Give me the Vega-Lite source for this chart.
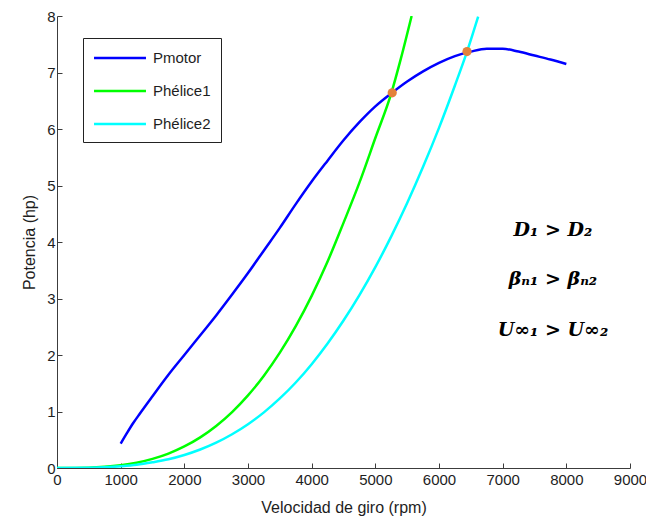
{
  "$schema": "https://vega.github.io/schema/vega-lite/v6.json",
  "width": 573,
  "height": 452,
  "autosize": {"type": "none"},
  "padding": {"left": 57, "top": 16, "right": 16, "bottom": 51},
  "background": "white",
  "config": {
    "view": {"stroke": null},
    "font": "Liberation Sans",
    "axis": {
      "grid": false,
      "domainColor": "#3c3c3c",
      "tickColor": "#3c3c3c",
      "labelColor": "#1e1e1e",
      "titleColor": "#1e1e1e",
      "labelFont": "Liberation Sans",
      "titleFont": "Liberation Sans",
      "labelFontSize": 15,
      "titleFontSize": 16,
      "titleFontWeight": "normal",
      "tickSize": -5,
      "labelFlush": false,
      "format": "d"
    }
  },
  "datasets": {
    "curves": [
      {"serie": "Pmotor", "rpm": 1000, "hp": 0.43},
      {"serie": "Pmotor", "rpm": 1100, "hp": 0.62},
      {"serie": "Pmotor", "rpm": 1200, "hp": 0.8},
      {"serie": "Pmotor", "rpm": 1300, "hp": 0.96},
      {"serie": "Pmotor", "rpm": 1500, "hp": 1.27},
      {"serie": "Pmotor", "rpm": 1750, "hp": 1.65},
      {"serie": "Pmotor", "rpm": 2000, "hp": 2.0},
      {"serie": "Pmotor", "rpm": 2250, "hp": 2.35},
      {"serie": "Pmotor", "rpm": 2500, "hp": 2.7},
      {"serie": "Pmotor", "rpm": 2750, "hp": 3.07},
      {"serie": "Pmotor", "rpm": 3000, "hp": 3.45},
      {"serie": "Pmotor", "rpm": 3250, "hp": 3.85},
      {"serie": "Pmotor", "rpm": 3500, "hp": 4.25},
      {"serie": "Pmotor", "rpm": 3750, "hp": 4.67},
      {"serie": "Pmotor", "rpm": 4000, "hp": 5.07},
      {"serie": "Pmotor", "rpm": 4250, "hp": 5.44},
      {"serie": "Pmotor", "rpm": 4500, "hp": 5.8},
      {"serie": "Pmotor", "rpm": 4750, "hp": 6.12},
      {"serie": "Pmotor", "rpm": 5000, "hp": 6.4},
      {"serie": "Pmotor", "rpm": 5250, "hp": 6.63},
      {"serie": "Pmotor", "rpm": 5500, "hp": 6.84},
      {"serie": "Pmotor", "rpm": 5750, "hp": 7.02},
      {"serie": "Pmotor", "rpm": 6000, "hp": 7.17},
      {"serie": "Pmotor", "rpm": 6250, "hp": 7.29},
      {"serie": "Pmotor", "rpm": 6500, "hp": 7.37},
      {"serie": "Pmotor", "rpm": 6750, "hp": 7.42},
      {"serie": "Pmotor", "rpm": 7000, "hp": 7.42},
      {"serie": "Pmotor", "rpm": 7250, "hp": 7.37},
      {"serie": "Pmotor", "rpm": 7500, "hp": 7.3},
      {"serie": "Pmotor", "rpm": 7750, "hp": 7.23},
      {"serie": "Pmotor", "rpm": 8000, "hp": 7.15},
      {"serie": "Phélice1", "rpm": 0, "hp": 0.0},
      {"serie": "Phélice1", "rpm": 500, "hp": 0.006},
      {"serie": "Phélice1", "rpm": 750, "hp": 0.02},
      {"serie": "Phélice1", "rpm": 1000, "hp": 0.048},
      {"serie": "Phélice1", "rpm": 1250, "hp": 0.093},
      {"serie": "Phélice1", "rpm": 1500, "hp": 0.161},
      {"serie": "Phélice1", "rpm": 1750, "hp": 0.255},
      {"serie": "Phélice1", "rpm": 2000, "hp": 0.381},
      {"serie": "Phélice1", "rpm": 2250, "hp": 0.542},
      {"serie": "Phélice1", "rpm": 2500, "hp": 0.744},
      {"serie": "Phélice1", "rpm": 2750, "hp": 0.99},
      {"serie": "Phélice1", "rpm": 3000, "hp": 1.285},
      {"serie": "Phélice1", "rpm": 3250, "hp": 1.634},
      {"serie": "Phélice1", "rpm": 3500, "hp": 2.041},
      {"serie": "Phélice1", "rpm": 3750, "hp": 2.511},
      {"serie": "Phélice1", "rpm": 4000, "hp": 3.047},
      {"serie": "Phélice1", "rpm": 4250, "hp": 3.655},
      {"serie": "Phélice1", "rpm": 4500, "hp": 4.339},
      {"serie": "Phélice1", "rpm": 4750, "hp": 5.05},
      {"serie": "Phélice1", "rpm": 5000, "hp": 5.84},
      {"serie": "Phélice1", "rpm": 5250, "hp": 6.63},
      {"serie": "Phélice1", "rpm": 5400, "hp": 7.24},
      {"serie": "Phélice1", "rpm": 5570, "hp": 8.0},
      {"serie": "Phélice2", "rpm": 0, "hp": 0.0},
      {"serie": "Phélice2", "rpm": 500, "hp": 0.004},
      {"serie": "Phélice2", "rpm": 750, "hp": 0.012},
      {"serie": "Phélice2", "rpm": 1000, "hp": 0.03},
      {"serie": "Phélice2", "rpm": 1250, "hp": 0.056},
      {"serie": "Phélice2", "rpm": 1500, "hp": 0.1},
      {"serie": "Phélice2", "rpm": 1750, "hp": 0.154},
      {"serie": "Phélice2", "rpm": 2000, "hp": 0.23},
      {"serie": "Phélice2", "rpm": 2250, "hp": 0.327},
      {"serie": "Phélice2", "rpm": 2500, "hp": 0.448},
      {"serie": "Phélice2", "rpm": 2750, "hp": 0.597},
      {"serie": "Phélice2", "rpm": 3000, "hp": 0.775},
      {"serie": "Phélice2", "rpm": 3250, "hp": 0.985},
      {"serie": "Phélice2", "rpm": 3500, "hp": 1.231},
      {"serie": "Phélice2", "rpm": 3750, "hp": 1.513},
      {"serie": "Phélice2", "rpm": 4000, "hp": 1.837},
      {"serie": "Phélice2", "rpm": 4250, "hp": 2.203},
      {"serie": "Phélice2", "rpm": 4500, "hp": 2.61},
      {"serie": "Phélice2", "rpm": 4750, "hp": 3.06},
      {"serie": "Phélice2", "rpm": 5000, "hp": 3.555},
      {"serie": "Phélice2", "rpm": 5250, "hp": 4.1},
      {"serie": "Phélice2", "rpm": 5500, "hp": 4.69},
      {"serie": "Phélice2", "rpm": 5750, "hp": 5.33},
      {"serie": "Phélice2", "rpm": 6000, "hp": 6.02},
      {"serie": "Phélice2", "rpm": 6250, "hp": 6.77},
      {"serie": "Phélice2", "rpm": 6440, "hp": 7.37},
      {"serie": "Phélice2", "rpm": 6615, "hp": 7.99}
    ],
    "cortes": [
      {"rpm": 5265, "hp": 6.64},
      {"rpm": 6440, "hp": 7.37}
    ],
    "notas": [
      {"orden": 1, "texto": "D₁ > D₂", "hp": 4.21},
      {"orden": 2, "texto": "βₙ₁ > βₙ₂", "hp": 3.35},
      {"orden": 3, "texto": "U∞₁ > U∞₂", "hp": 2.44}
    ]
  },
  "layer": [
    {
      "data": {"name": "curves"},
      "mark": {"type": "line", "strokeWidth": 2.5, "interpolate": "monotone", "clip": true},
      "encoding": {
        "x": {
          "field": "rpm", "type": "quantitative",
          "scale": {"domain": [0, 9000], "nice": false},
          "axis": {
            "values": [0, 1000, 2000, 3000, 4000, 5000, 6000, 7000, 8000, 9000],
            "title": "Velocidad de giro (rpm)",
            "labelPadding": 9,
            "titlePadding": 12
          }
        },
        "y": {
          "field": "hp", "type": "quantitative",
          "scale": {"domain": [0, 8], "nice": false},
          "axis": {
            "values": [0, 1, 2, 3, 4, 5, 6, 7, 8],
            "title": "Potencia (hp)",
            "labelPadding": 7,
            "titlePadding": 9
          }
        },
        "color": {
          "field": "serie", "type": "nominal",
          "scale": {"domain": ["Pmotor", "Phélice1", "Phélice2"], "range": ["#0000FF", "#00FF00", "#00FFFF"]},
          "legend": {
            "title": null,
            "orient": "none",
            "legendX": 26,
            "legendY": 22,
            "direction": "vertical",
            "strokeColor": "#222222",
            "fillColor": "white",
            "padding": 10,
            "symbolType": "M-3,0H3",
            "symbolSize": 300,
            "symbolOffset": 17,
            "symbolStrokeWidth": 2.5,
            "labelFontSize": 15,
            "labelFont": "Liberation Sans",
            "labelColor": "#1e1e1e",
            "labelOffset": 23,
            "rowPadding": 15
          }
        }
      }
    },
    {
      "data": {"name": "cortes"},
      "mark": {"type": "circle", "size": 85, "color": "#E3823B", "opacity": 1},
      "encoding": {
        "x": {"field": "rpm", "type": "quantitative"},
        "y": {"field": "hp", "type": "quantitative"}
      }
    },
    {
      "data": {"name": "notas"},
      "mark": {"type": "text", "font": "DejaVu Serif", "fontSize": 19, "fontStyle": "italic", "fontWeight": "bold", "align": "center", "baseline": "middle", "color": "black"},
      "encoding": {
        "x": {"datum": 7790, "type": "quantitative"},
        "y": {"field": "hp", "type": "quantitative"},
        "text": {"field": "texto"}
      }
    }
  ]
}
